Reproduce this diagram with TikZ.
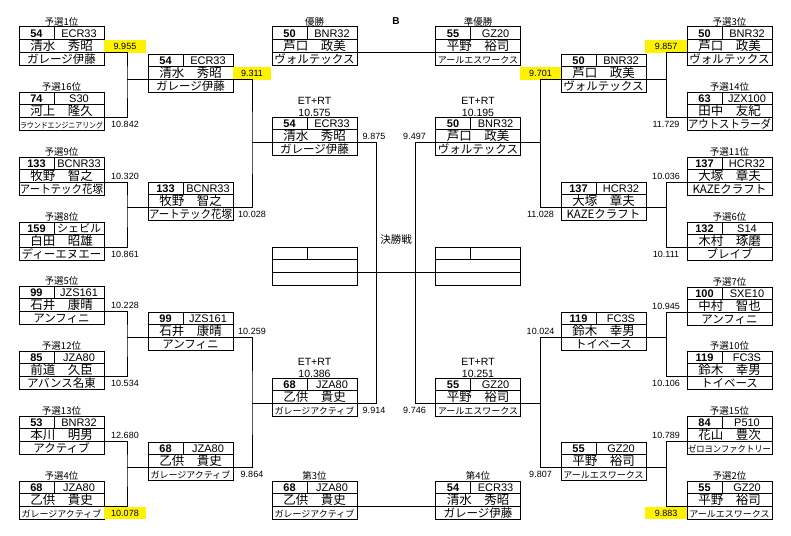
\documentclass[tikz,border=0pt]{standalone}
\usepackage{fontspec}
\setmainfont{Liberation Sans}
\newfontfamily\jp{Noto Sans CJK JP}
\usepackage{graphicx}
\usetikzlibrary{positioning}

\newsavebox\fitbx
\newcommand\fitw[2]{\sbox\fitbx{#2}\ifdim\wd\fitbx>#1\relax\resizebox{#1}{\ht\fitbx}{\usebox\fitbx}\else\usebox\fitbx\fi}
\newcommand\smallteam{\fontsize{9}{10}\selectfont}

\tikzstyle{cell} = [draw, line width=1pt, inner sep=0pt, outer sep=0pt, minimum height=12.8pt]
\tikzstyle{nocell} = [cell, minimum width=35pt, anchor=north west, font=\bfseries\fontsize{11}{12}\selectfont]
\tikzstyle{carcell} = [cell, minimum width=50pt, font=\fontsize{11}{12}\selectfont]
\tikzstyle{drvcell} = [cell, minimum width=85pt, text height=10.5pt, text depth=1.5pt, font=\jp\fontsize{12.5}{13}\selectfont]
\tikzstyle{teamcell} = [cell, minimum width=85pt, text height=10pt, text depth=1.5pt, font=\jp\fontsize{11.5}{12}\selectfont]
\tikzstyle{rank} = [inner sep=0.5pt, font=\jp\fontsize{9.5}{10}\selectfont]
\tikzstyle{etrt} = [inner sep=0.5pt, align=center, font=\fontsize{10.5}{12}\selectfont]
\tikzstyle{score} = [inner sep=0pt, outer sep=0pt, minimum width=42pt, minimum height=12.8pt, font=\fontsize{9}{10}\selectfont]
\tikzstyle{hl} = [fill=yellow]
\tikzstyle{link} = [line width=1pt]

% #1 label style, #2 name, #3 x, #4 y, #5 label, #6 no., #7 car, #8 driver, #9 team
\newcommand\racer[9][rank]{%
  \node[nocell] (#2-no) at (#3,#4) {#6};
  \node[carcell, right=0pt of #2-no] (#2-car) {#7};
  \node[drvcell, below=0pt of #2-no.south west, anchor=north west] (#2-drv) {#8};
  \node[teamcell, below=0pt of #2-drv] (#2-team) {\fitw{83pt}{#9}};
  \node[#1, above=12.8pt of #2-drv] (#2-rank) {#5};
}

\begin{document}
\begin{tikzpicture}[x=1pt, y=-1pt]
\useasboundingbox (0,0) rectangle (791,535);
%begin left round1
\racer{l1}{19}{27}{予選1位}{54}{ECR33}{清水　秀昭}{ガレージ伊藤}
\racer{l16}{19}{92}{予選16位}{74}{S30}{河上　隆久}{\fontsize{8}{9}\selectfont ラウンドエンジニアリング}
\racer{l9}{19}{157}{予選9位}{133}{BCNR33}{牧野　智之}{アートテック花塚}
\racer{l8}{19}{222}{予選8位}{159}{\jp シェビル}{白田　昭雄}{ディーエヌエー}
\racer{l5}{19}{286}{予選5位}{99}{JZS161}{石井　康晴}{アンフィニ}
\racer{l12}{19}{351}{予選12位}{85}{JZA80}{前道　久臣}{アバンス名東}
\racer{l13}{19}{416}{予選13位}{53}{BNR32}{本川　明男}{アクティブ}
\racer{l4}{19}{481}{予選4位}{68}{JZA80}{乙供　貴史}{\smallteam ガレージアクティブ}
%end left round1
%begin left round2
\racer[coordinate]{lq1}{148}{54}{}{54}{ECR33}{清水　秀昭}{ガレージ伊藤}
\racer[coordinate]{lq2}{148}{182}{}{133}{BCNR33}{牧野　智之}{アートテック花塚}
\racer[coordinate]{lq3}{148}{312}{}{99}{JZS161}{石井　康晴}{アンフィニ}
\racer[coordinate]{lq4}{148}{442}{}{68}{JZA80}{乙供　貴史}{\smallteam ガレージアクティブ}
%end left round2
%begin middle
\racer{win}{272}{27}{優勝}{50}{BNR32}{芦口　政美}{ヴォルテックス}
\racer[etrt]{ls1}{272}{117}{ET+RT\\10.575}{54}{ECR33}{清水　秀昭}{ガレージ伊藤}
\racer[coordinate]{fl}{272}{247}{}{}{}{}{}
\racer[etrt]{ls2}{272}{378}{ET+RT\\10.386}{68}{JZA80}{乙供　貴史}{\smallteam ガレージアクティブ}
\racer{third}{272}{481}{第3位}{68}{JZA80}{乙供　貴史}{\smallteam ガレージアクティブ}
\racer{runner}{435.5}{27}{準優勝}{55}{GZ20}{平野　裕司}{\smallteam アールエスワークス}
\racer[etrt]{rs1}{435.5}{117}{ET+RT\\10.195}{50}{BNR32}{芦口　政美}{ヴォルテックス}
\racer[coordinate]{fr}{435.5}{247}{}{}{}{}{}
\racer[etrt]{rs2}{435.5}{378}{ET+RT\\10.251}{55}{GZ20}{平野　裕司}{\smallteam アールエスワークス}
\racer{fourth}{435.5}{481}{第4位}{54}{ECR33}{清水　秀昭}{ガレージ伊藤}
\node[font=\bfseries\fontsize{10}{11}\selectfont] (blk) at (396,21) {B};
\node[rank, font=\jp\fontsize{10.5}{11}\selectfont] (kessho) at (396,240) {決勝戦};
%end middle
%begin right round2
\racer[coordinate]{rq1}{561}{54}{}{50}{BNR32}{芦口　政美}{ヴォルテックス}
\racer[coordinate]{rq2}{561}{182}{}{137}{HCR32}{大塚　章夫}{KAZEクラフト}
\racer[coordinate]{rq3}{561}{312}{}{119}{FC3S}{鈴木　幸男}{トイベース}
\racer[coordinate]{rq4}{561}{442}{}{55}{GZ20}{平野　裕司}{\smallteam アールエスワークス}
%end right round2
%begin right round1
\racer{r3}{687}{27}{予選3位}{50}{BNR32}{芦口　政美}{ヴォルテックス}
\racer{r14}{687}{92}{予選14位}{63}{JZX100}{田中　友紀}{アウトストラーダ}
\racer{r11}{687}{157}{予選11位}{137}{HCR32}{大塚　章夫}{KAZEクラフト}
\racer{r6}{687}{222}{予選6位}{132}{S14}{木村　琢磨}{ブレイブ}
\racer{r7}{687}{287}{予選7位}{100}{SXE10}{中村　智也}{アンフィニ}
\racer{r10}{687}{351}{予選10位}{119}{FC3S}{鈴木　幸男}{トイベース}
\racer{r15}{687}{416}{予選15位}{84}{P510}{花山　豊次}{\smallteam ゼロヨンファクトリー}
\racer{r2}{687}{481}{予選2位}{55}{GZ20}{平野　裕司}{\smallteam アールエスワークス}
%end right round1
%begin times
\node[score, hl, right=0pt of l1-drv] (t-l1) {9.955};
\node[score, right=0pt of l16-team] (t-l16) {10.842};
\node[score, right=0pt of l9-drv] (t-l9) {10.320};
\node[score, right=0pt of l8-team] (t-l8) {10.861};
\node[score, right=0pt of l5-drv] (t-l5) {10.228};
\node[score, right=0pt of l12-team] (t-l12) {10.534};
\node[score, right=0pt of l13-drv] (t-l13) {12.680};
\node[score, hl, right=0pt of l4-team] (t-l4) {10.078};
\node[score, hl, minimum width=38pt, right=0pt of lq1-drv] (t-lq1) {9.311};
\node[score, minimum width=38pt, right=0pt of lq2-team] (t-lq2) {10.028};
\node[score, minimum width=38pt, right=0pt of lq3-drv] (t-lq3) {10.259};
\node[score, minimum width=38pt, right=0pt of lq4-team] (t-lq4) {9.864};
\node[score, minimum width=34pt, right=0pt of ls1-drv] (t-ls1) {9.875};
\node[score, minimum width=34pt, right=0pt of ls2-team] (t-ls2) {9.914};
\node[score, left=0pt of rs1-drv] (t-rs1) {9.497};
\node[score, left=0pt of rs2-team] (t-rs2) {9.746};
\node[score, hl, minimum width=41pt, left=0pt of rq1-drv] (t-rq1) {9.701};
\node[score, minimum width=41pt, left=0pt of rq2-team] (t-rq2) {11.028};
\node[score, minimum width=41pt, left=0pt of rq3-drv] (t-rq3) {10.024};
\node[score, minimum width=41pt, left=0pt of rq4-team] (t-rq4) {9.807};
\node[score, hl, left=0pt of r3-drv] (t-r3) {9.857};
\node[score, left=0pt of r14-team] (t-r14) {11.729};
\node[score, left=0pt of r11-drv] (t-r11) {10.036};
\node[score, left=0pt of r6-team] (t-r6) {10.111};
\node[score, left=0pt of r7-drv] (t-r7) {10.945};
\node[score, left=0pt of r10-team] (t-r10) {10.106};
\node[score, left=0pt of r15-drv] (t-r15) {10.789};
\node[score, hl, left=0pt of r2-team] (t-r2) {9.883};
%end times
%begin links left
\draw[link] (l1-drv.south east) -| ([xshift=-21pt]lq1-drv.south west) |- (l16-drv.south east);
\draw[link] ([xshift=-21pt]lq1-drv.south west) -- (lq1-drv.south west);
\draw[link] (l9-drv.south east) -| ([xshift=-21pt]lq2-drv.south west) |- (l8-drv.south east);
\draw[link] ([xshift=-21pt]lq2-drv.south west) -- (lq2-drv.south west);
\draw[link] (l5-drv.south east) -| ([xshift=-21pt]lq3-drv.south west) |- (l12-drv.south east);
\draw[link] ([xshift=-21pt]lq3-drv.south west) -- (lq3-drv.south west);
\draw[link] (l13-drv.south east) -| ([xshift=-21pt]lq4-drv.south west) |- (l4-drv.south east);
\draw[link] ([xshift=-21pt]lq4-drv.south west) -- (lq4-drv.south west);
\draw[link] (lq1-drv.south east) -| ([xshift=-20pt]ls1-drv.south west) |- (lq2-drv.south east);
\draw[link] ([xshift=-20pt]ls1-drv.south west) -- (ls1-drv.south west);
\draw[link] (lq3-drv.south east) -| ([xshift=-20pt]ls2-drv.south west) |- (lq4-drv.south east);
\draw[link] ([xshift=-20pt]ls2-drv.south west) -- (ls2-drv.south west);
%end links left
%begin links middle
\draw[link] (ls1-drv.south east) -| ([xshift=19.5pt]fl-drv.south east) |- (ls2-drv.south east);
\draw[link] (rs1-drv.south west) -| ([xshift=-20pt]fr-drv.south west) |- (rs2-drv.south west);
\draw[link] (fl-drv.south east) -- (fr-drv.south west);
\draw[link] (win-drv.south east) -- (runner-drv.south west);
\draw[link] (third-drv.south east) -- (fourth-drv.south west);
%end links middle
%begin links right
\draw[link] (rq1-drv.south west) -| ([xshift=19.5pt]rs1-drv.south east) |- (rq2-drv.south west);
\draw[link] ([xshift=19.5pt]rs1-drv.south east) -- (rs1-drv.south east);
\draw[link] (rq3-drv.south west) -| ([xshift=19.5pt]rs2-drv.south east) |- (rq4-drv.south west);
\draw[link] ([xshift=19.5pt]rs2-drv.south east) -- (rs2-drv.south east);
\draw[link] (r3-drv.south west) -| ([xshift=20pt]rq1-drv.south east) |- (r14-drv.south west);
\draw[link] ([xshift=20pt]rq1-drv.south east) -- (rq1-drv.south east);
\draw[link] (r11-drv.south west) -| ([xshift=20pt]rq2-drv.south east) |- (r6-drv.south west);
\draw[link] ([xshift=20pt]rq2-drv.south east) -- (rq2-drv.south east);
\draw[link] (r7-drv.south west) -| ([xshift=20pt]rq3-drv.south east) |- (r10-drv.south west);
\draw[link] ([xshift=20pt]rq3-drv.south east) -- (rq3-drv.south east);
\draw[link] (r15-drv.south west) -| ([xshift=20pt]rq4-drv.south east) |- (r2-drv.south west);
\draw[link] ([xshift=20pt]rq4-drv.south east) -- (rq4-drv.south east);
%end links right
\end{tikzpicture}
\end{document}
